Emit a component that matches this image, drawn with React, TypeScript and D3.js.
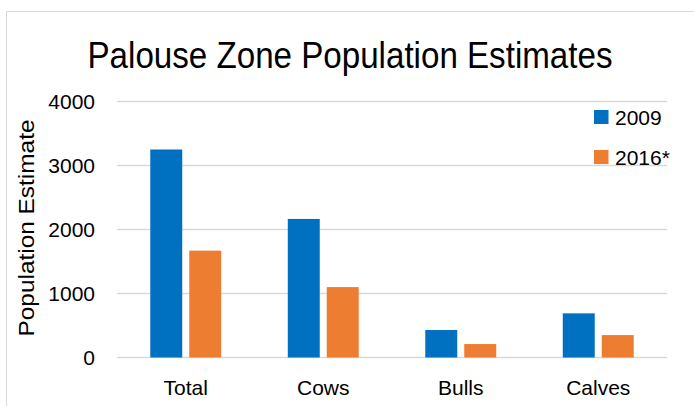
import React from 'react';
import * as d3 from 'd3';

const categories = ['Total', 'Cows', 'Bulls', 'Calves'];
const seriesNames = ['2009', '2016*'];
const values2009 = [3250, 2165, 430, 690];
const values2016 = [1670, 1100, 210, 350];
const yTicks = [0, 1000, 2000, 3000, 4000];
const colors = ['#0070c0', '#ed7d31'];

const W = 694;
const H = 406;
const FONT = '"Liberation Sans", Arial, sans-serif';

export default function App() {
  const margin = { top: 101.5, right: 27, bottom: 48.5, left: 117 };
  const innerW = W - margin.left - margin.right;
  const innerH = H - margin.top - margin.bottom;

  const x = d3.scaleBand<string>()
    .domain(categories)
    .range([0, innerW])
    .paddingInner(0.484)
    .paddingOuter(0.242);

  const xSub = d3.scaleBand<string>()
    .domain(seriesNames)
    .range([0, x.bandwidth()])
    .paddingInner(0.18);

  const y = d3.scaleLinear().domain([0, 4000]).range([innerH, 0]);

  const series = [values2009, values2016];

  return (
    <svg width={W} height={H} style={{ position: 'absolute', left: 0, top: 0, background: '#fff' }}>
      {/* chart border (only top and left are visible) */}
      <line x1={6.5} x2={W} y1={11.5} y2={11.5} stroke="#d9d9d9" />
      <line x1={6.5} x2={6.5} y1={11.5} y2={H} stroke="#d9d9d9" />

      <text x={350} y={68} textAnchor="middle" fontFamily={FONT} fontSize={36}
        textLength={525} lengthAdjust="spacingAndGlyphs" fill="#000">
        Palouse Zone Population Estimates
      </text>

      <g transform={`translate(${margin.left},${margin.top})`}>
        {yTicks.map(t => (
          <g key={t}>
            <line x1={0} x2={innerW} y1={y(t)} y2={y(t)} stroke="#d9d9d9" strokeWidth={1.5} />
            <text x={-22} y={y(t)} dy="0.36em" textAnchor="end" fontFamily={FONT} fontSize={21} fill="#000">
              {t}
            </text>
          </g>
        ))}

        {categories.map((c, i) => (
          <g key={c} transform={`translate(${x(c)},0)`}>
            {seriesNames.map((s, j) => (
              <rect key={s}
                x={xSub(s)}
                y={y(series[j][i])}
                width={xSub.bandwidth()}
                height={innerH - y(series[j][i])}
                fill={colors[j]} />
            ))}
            <text x={x.bandwidth() / 2} y={innerH + 37} textAnchor="middle"
              fontFamily={FONT} fontSize={21} fill="#000">
              {c}
            </text>
          </g>
        ))}
      </g>

      <text transform="translate(34,228) rotate(-90)" textAnchor="middle"
        fontFamily={FONT} fontSize={22} textLength={217} lengthAdjust="spacingAndGlyphs" fill="#000">
        Population Estimate
      </text>

      {seriesNames.map((s, j) => (
        <g key={s} transform={`translate(594,${117 + j * 40})`}>
          <rect x={0} y={-7} width={14.5} height={14} fill={colors[j]} />
          <text x={21} y={0} dy="0.36em" fontFamily={FONT} fontSize={21} fill="#000">{s}</text>
        </g>
      ))}
    </svg>
  );
}
